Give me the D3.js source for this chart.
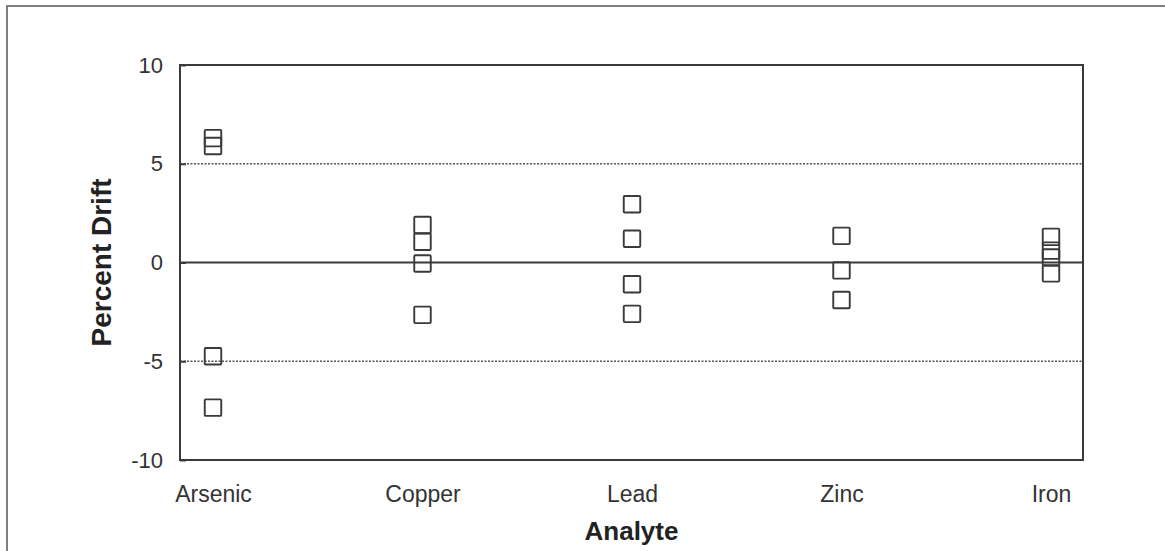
<!DOCTYPE html>
<html><head><meta charset="utf-8">
<script src="https://cdn.jsdelivr.net/npm/d3@7"></script>
<style>body{margin:0;background:#fff;}svg{display:block;}</style>
</head><body>
<svg id="c" width="1165" height="551"></svg>
<script>
const categories = ["Arsenic", "Copper", "Lead", "Zinc", "Iron"];
const arsenicValues = [6.3, 5.9, -4.75, -7.35];
const copperValues = [1.9, 1.05, -0.05, -2.65];
const leadValues = [2.95, 1.2, -1.1, -2.6];
const zincValues = [1.35, -0.4, -1.9];
const ironValues = [1.3, 0.6, 0.25, -0.55];
const yTicks = [-10, -5, 0, 5, 10];
const yTickLabels = ["-10", "-5", "0", "5", "10"];
const xTitle = "Analyte";
const yTitle = "Percent Drift";

const seriesByCat = [arsenicValues, copperValues, leadValues, zincValues, ironValues];
const points = [];
seriesByCat.forEach((vals, i) => vals.forEach(v => points.push({cat: categories[i], v})));

const svg = d3.select("#c");
const L = 180, R = 1083, T = 65, B = 460;
const ink = "#3a3a3a";
const font = "Liberation Sans, Arial, sans-serif";

// outer frame
svg.append("rect").attr("x", 7).attr("y", 6).attr("width", 1200).attr("height", 600)
  .attr("fill", "none").attr("stroke", "#555").attr("stroke-width", 1.5);

const x = d3.scalePoint().domain(categories).range([L + 33, R - 32]);
const y = d3.scaleLinear().domain([-10, 10]).range([B, T]);

// gridlines
svg.append("g").selectAll("line").data(yTicks.filter(t => t === 5 || t === -5)).join("line")
  .attr("x1", L).attr("x2", R).attr("y1", d => y(d)).attr("y2", d => y(d))
  .attr("stroke", "#555").attr("stroke-width", 1.6).attr("stroke-dasharray", "2,1.5");
svg.append("line").attr("x1", L).attr("x2", R).attr("y1", y(0)).attr("y2", y(0))
  .attr("stroke", ink).attr("stroke-width", 2);

// plot border
svg.append("rect").attr("x", L).attr("y", T).attr("width", R - L).attr("height", B - T)
  .attr("fill", "none").attr("stroke", ink).attr("stroke-width", 2);

// y axis
const yAxis = d3.axisLeft(y).tickValues(yTicks).tickSize(-6).tickPadding(17)
  .tickFormat((d, i) => yTickLabels[i]);
const ga = svg.append("g").attr("transform", `translate(${L},0)`).call(yAxis);
ga.select(".domain").remove();
ga.selectAll(".tick line").attr("stroke", ink).attr("stroke-width", 2);
ga.selectAll(".tick text").attr("font-family", font)
  .attr("font-size", 22).attr("fill", "#333");

// x axis
const xAxis = d3.axisBottom(x).tickSize(0).tickPadding(26);
const gx = svg.append("g").attr("transform", `translate(0,${B})`).call(xAxis);
gx.select(".domain").remove();
gx.selectAll(".tick text").attr("font-family", font)
  .attr("font-size", 23).attr("fill", "#333");

// titles
svg.append("text").attr("x", (L + R) / 2).attr("y", 540).attr("text-anchor", "middle")
  .attr("font-family", font).attr("font-weight", "bold")
  .attr("font-size", 26).attr("fill", "#222").text(xTitle);
svg.append("text").attr("transform", `translate(111,${(T + B) / 2}) rotate(-90)`)
  .attr("text-anchor", "middle")
  .attr("font-family", font).attr("font-weight", "bold")
  .attr("font-size", 28).attr("fill", "#222").text(yTitle);

// markers
const s = 16.5;
svg.append("g").selectAll("rect").data(points).join("rect")
  .attr("x", d => x(d.cat) - s / 2).attr("y", d => y(d.v) - s / 2)
  .attr("width", s).attr("height", s).attr("rx", 1)
  .attr("fill", "none").attr("stroke", ink).attr("stroke-width", 1.9);
</script>
</body></html>
